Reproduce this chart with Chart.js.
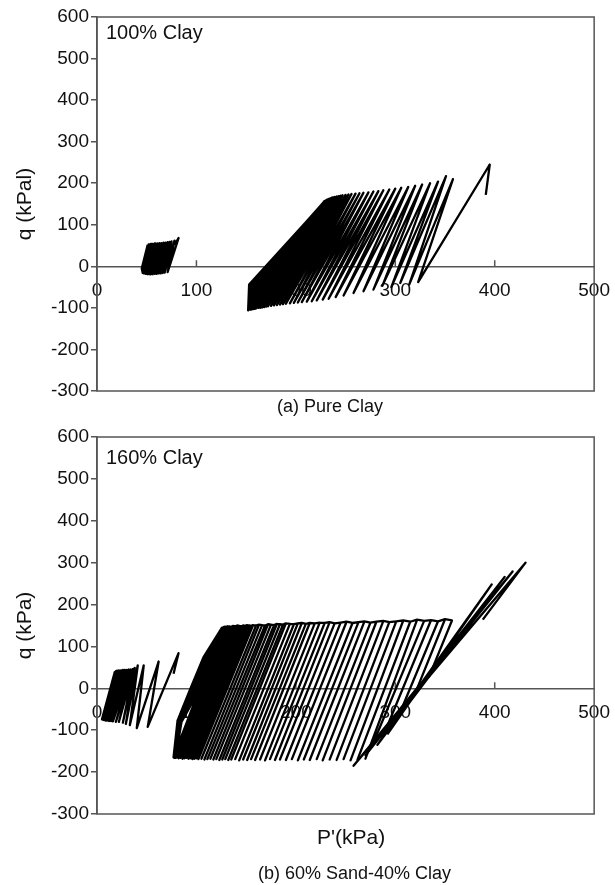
<!DOCTYPE html>
<html>
<head>
<meta charset="utf-8">
<script src="https://cdn.jsdelivr.net/npm/chart.js@4.4.1/dist/chart.umd.min.js"></script>
<style>
  body { margin: 0; background: #fff; }
  #page { position: relative; width: 615px; height: 885px; font-family: "Liberation Sans", Arial, sans-serif; color: #111; }
  canvas { position: absolute; left: 0; }
  .txt { position: absolute; line-height: 1; white-space: nowrap; }
</style>
</head>
<body>
<div id="page">
  <canvas id="chartA" width="615" height="420" style="top:0"></canvas>
  <canvas id="chartB" width="615" height="420" style="top:420px"></canvas>
  <div class="txt" style="left:106px; top:22px; font-size:20px">100% Clay</div>
  <div class="txt" style="left:277px; top:397px; font-size:18px">(a) Pure Clay</div>
  <div class="txt" style="left:106px; top:447px; font-size:20px">160% Clay</div>
  <div class="txt" style="left:317px; top:826px; font-size:21px">P'(kPa)</div>
  <div class="txt" style="left:258px; top:864px; font-size:18px">(b) 60% Sand-40% Clay</div>
</div>
<script>
// axis ticks
const pTicks = [0, 100, 200, 300, 400, 500];
const qTicks = [-300, -200, -100, 0, 100, 200, 300, 400, 500, 600];

// (a) pure clay - early low-stress cluster, path as recorded
const aSmallP = [78, 82, 71, 78, 68, 75, 66, 73, 64, 71, 62, 69, 60, 67, 58, 65, 56, 63, 54, 61, 53, 59, 51, 58, 50, 56, 49, 55, 48, 54, 47, 53, 46, 52, 46, 45, 51];
const aSmallQ = [52, 68, -14, 62, -15, 60, -16, 59, -17, 58, -17, 57, -18, 57, -18, 56, -19, 56, -19, 55, -19, 55, -19, 55, -18, 54, -18, 54, -17, 54, -17, 53, -16, 53, -16, -5, 52];

// (a) main cycles: turning points at the bottom and at the top of each cycle
const aBotP = [391, 323, 314, 305, 296, 287, 278, 268, 258, 248, 240, 233, 227, 221, 216, 211, 206, 202, 198, 194, 190, 187, 184, 181, 178, 175, 172, 170, 168, 166, 164, 162, 160, 159, 158, 157, 156, 155, 154, 153];
const aBotQ = [172, -38, -44, -40, -50, -47, -56, -60, -64, -70, -74, -78, -80, -82, -84, -85, -86, -87, -88, -89, -90, -91, -92, -93, -94, -95, -96, -97, -98, -99, -100, -100, -101, -102, -102, -103, -103, -104, -104, -105];
const aTopP = [395, 358, 351, 343, 335, 327, 320, 313, 306, 300, 294, 288, 283, 278, 273, 268, 264, 260, 256, 253, 250, 247, 245, 243, 241, 239, 237, 236, 235, 234, 233, 232, 232, 231, 231, 230, 230, 229, 229];
const aTopQ = [245, 210, 217, 204, 200, 197, 194, 191, 189, 187, 185, 183, 181, 180, 178, 177, 176, 175, 174, 173, 172, 171, 170, 169, 168, 167, 166, 165, 164, 163, 162, 161, 160, 160, 159, 158, 158, 157, 157];

// (a) last cycles, bending near the bottom-left
const aEndP = [153, 166, 232, 152, 164, 232, 152, 162, 231, 152, 160, 231, 152, 158, 231, 152, 157, 230, 152, 156, 230, 152, 155, 230, 152, 154, 229, 152, 153, 229];
const aEndQ = [-105, -50, 159, -105, -48, 159, -106, -47, 158, -106, -46, 158, -106, -46, 158, -106, -45, 157, -106, -45, 157, -106, -45, 157, -106, -45, 157, -106, -44, 156];

// (b) sand-clay - early low-stress cluster
const bSmallP = [77, 82, 51, 62, 40, 47, 33, 41, 29, 38, 26, 37, 22, 36, 19, 34, 16, 32, 14, 30, 12, 28, 10, 26, 9, 24, 8, 22, 7, 21, 6, 20, 5, 19, 5, 18];
const bSmallQ = [35, 84, -92, 64, -95, 55, -88, 55, -85, 49, -82, 47, -80, 46, -80, 45, -79, 45, -78, 44, -78, 44, -77, 44, -77, 43, -76, 43, -76, 42, -75, 42, -74, 41, -74, 40];

// (b) first large cycles
const bStartP = [388, 431, 258, 418, 270, 410, 282, 397, 292];
const bStartQ = [164, 300, -185, 279, -160, 266, -135, 248, -110];

// (b) one stripe per cycle: top and bottom ends
const bTopP = [357, 350, 343, 336, 329, 322, 315, 308, 301, 294, 288, 281, 275, 269, 263, 257, 251, 245, 239, 234, 229, 224, 219, 214, 210, 206, 202, 198, 194, 190, 187, 184, 181, 178, 175, 172, 169, 166, 163, 160, 157, 155, 153, 151, 149, 147, 145, 143, 141, 139, 137, 135, 133, 131];
const bTopQ = [162, 165, 160, 163, 161, 164, 159, 162, 160, 158, 161, 159, 157, 160, 158, 156, 159, 157, 155, 158, 156, 157, 155, 156, 154, 156, 155, 153, 154, 155, 152, 153, 154, 151, 152, 153, 150, 151, 152, 150, 151, 149, 150, 151, 149, 150, 148, 149, 150, 148, 149, 147, 148, 147];
const bBotP = [334, 320, 306, 292, 278, 270, 262, 255, 248, 241, 234, 227, 221, 214, 208, 202, 196, 190, 184, 179, 174, 169, 164, 159, 155, 151, 147, 143, 139, 135, 132, 129, 126, 123, 120, 117, 114, 111, 108, 105, 102, 100, 98, 96, 94, 92, 90, 88, 86, 84, 82, 80, 79, 78];
const bBotQ = [28, -12, -51, -90, -130, -168, -170, -172, -169, -171, -170, -172, -169, -171, -170, -172, -169, -171, -170, -171, -169, -172, -170, -171, -169, -171, -170, -172, -169, -170, -171, -169, -170, -171, -169, -170, -168, -169, -170, -168, -169, -167, -168, -169, -167, -168, -166, -167, -168, -166, -167, -165, -166, -165];

// (b) last cycles along the curved left edge
const bEndP = [79, 85, 103, 116, 131, 78, 84, 101, 114, 130, 78, 83, 99, 112, 129, 77, 82, 97, 110, 128, 77, 81, 95, 109, 127, 77, 81, 93, 107, 126];
const bEndQ = [-166, -80, -3, 76, 148, -166, -79, -4, 75, 147, -165, -78, -4, 75, 147, -165, -78, -5, 74, 147, -165, -77, -5, 74, 146, -164, -77, -6, 74, 146];

const FONT = '"Liberation Sans", Arial, sans-serif';

function path(P, Q) {
  return P.map((p, i) => ({ x: p, y: Q[i] }));
}

// bottom, top, bottom, top ... ending on the last bottom
function zigzag(botP, botQ, topP, topQ) {
  const pts = [];
  botP.forEach((p, i) => {
    pts.push({ x: p, y: botQ[i] });
    if (i < topP.length) pts.push({ x: topP[i], y: topQ[i] });
  });
  return pts;
}

// each stripe is run down and back up before moving to the next
function stripes(topP, topQ, botP, botQ) {
  const pts = [];
  topP.forEach((p, i) => {
    pts.push({ x: p, y: topQ[i] });
    pts.push({ x: botP[i], y: botQ[i] });
    pts.push({ x: p, y: topQ[i] });
  });
  return pts;
}

function line(data) {
  return {
    data: data,
    showLine: true,
    borderColor: '#000',
    borderWidth: 2.3,
    borderJoinStyle: 'round',
    pointRadius: 0,
    tension: 0
  };
}

const framePlugin = {
  id: 'frame',
  beforeDatasetsDraw(chart) {
    const { ctx, chartArea: a, scales: { x, y } } = chart;
    ctx.save();
    ctx.strokeStyle = '#555';
    ctx.lineWidth = 1.5;
    ctx.strokeRect(a.left, a.top, a.right - a.left, a.bottom - a.top);
    const y0 = y.getPixelForValue(0);
    ctx.beginPath();
    pTicks.slice(1, -1).forEach(v => {
      const px = x.getPixelForValue(v);
      ctx.moveTo(px, y0);
      ctx.lineTo(px, y0 - 6);
    });
    ctx.stroke();
    ctx.restore();
  }
};

function options(yTitle, padBottom) {
  return {
    responsive: false,
    animation: false,
    layout: { padding: { top: 17, right: 7, bottom: padBottom, left: 0 } },
    plugins: { legend: { display: false }, tooltip: { enabled: false } },
    scales: {
      x: {
        type: 'linear',
        min: 0,
        max: 500,
        position: { y: 0 },
        afterBuildTicks: s => { s.ticks = pTicks.map(v => ({ value: v })); },
        grid: { display: false },
        border: { display: true, color: '#555', width: 1.5 },
        ticks: { color: '#111', font: { family: FONT, size: 19 }, padding: 5, maxRotation: 0 }
      },
      y: {
        type: 'linear',
        min: -300,
        max: 600,
        afterBuildTicks: s => { s.ticks = qTicks.map(v => ({ value: v })); },
        afterFit: s => { s.width = 97; },
        grid: { drawOnChartArea: false, drawTicks: true, tickLength: 6, color: '#555', lineWidth: 1.5 },
        border: { display: true, color: '#555', width: 1.5 },
        ticks: { color: '#111', font: { family: FONT, size: 19 }, padding: 2 },
        title: { display: true, text: yTitle, color: '#111', font: { family: FONT, size: 21 }, padding: { top: 13, bottom: 0 } }
      }
    }
  };
}

new Chart(document.getElementById('chartA'), {
  type: 'scatter',
  data: {
    datasets: [
      line(path(aSmallP, aSmallQ)),
      line(zigzag(aBotP, aBotQ, aTopP, aTopQ)),
      line(path(aEndP, aEndQ))
    ]
  },
  options: options('q (kPal)', 29),
  plugins: [framePlugin]
});

new Chart(document.getElementById('chartB'), {
  type: 'scatter',
  data: {
    datasets: [
      line(path(bSmallP, bSmallQ)),
      line(path(bStartP, bStartQ)),
      line(stripes(bTopP, bTopQ, bBotP, bBotQ)),
      line(path(bEndP, bEndQ))
    ]
  },
  options: options('q (kPa)', 26),
  plugins: [framePlugin]
});
</script>
</body>
</html>
